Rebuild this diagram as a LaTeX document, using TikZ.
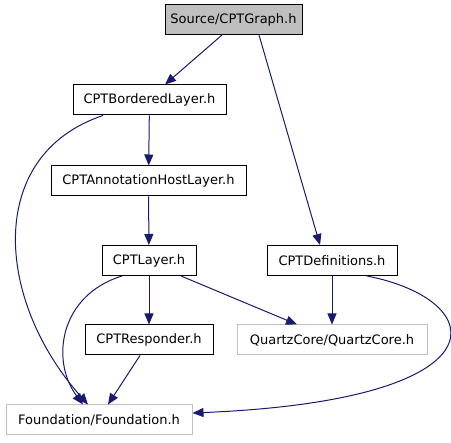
\documentclass[tikz,border=0pt]{standalone}
\usepackage{fontspec}
\setmainfont{DejaVu Sans}
\usetikzlibrary{arrows.meta}
\definecolor{GrEdge}{HTML}{191970}
\definecolor{GrGray}{HTML}{BFBFBF}
\tikzset{
  hdr/.style={draw=black,line width=1pt,minimum height=30pt,inner sep=0pt,font=\fontsize{13}{15}\selectfont},
  syshdr/.style={hdr,draw=GrGray},
  dep/.style={GrEdge,line width=1pt,-{Triangle[length=11pt,width=9pt]}}
}
\begin{document}
\begin{tikzpicture}[x=1pt,y=-1pt]
\path[use as bounding box] (0,0) rectangle (451,443);
% headers
\node[hdr,fill=GrGray,minimum width=137pt] (graph) at (233.5,19.5) {Source/CPTGraph.h};
\node[hdr,minimum width=153pt] (bordered) at (149.5,100) {CPTBorderedLayer.h};
\node[hdr,minimum width=195pt] (annot) at (148.5,181) {CPTAnnotationHostLayer.h};
\node[hdr,minimum width=94pt] (layer) at (149,260.5) {CPTLayer.h};
\node[hdr,minimum width=130pt] (defs) at (332,260.5) {CPTDefinitions.h};
\node[hdr,minimum width=128pt] (resp) at (149,340) {CPTResponder.h};
\node[syshdr,minimum width=190pt] (quartz) at (332,340) {QuartzCore/QuartzCore.h};
\node[syshdr,minimum width=186pt] (found) at (99,420) {Foundation/Foundation.h};
% includes
\draw[dep] (graph.south -| 222,0) -- (bordered.north -| 165,0);
\draw[dep] (graph.south -| 259,0) -- (defs.north -| 320,0);
\draw[dep] (bordered) -- (annot);
\draw[dep] (annot) -- (layer);
\draw[dep] (layer) -- (resp);
\draw[dep] (defs) -- (quartz);
\draw[dep] (layer.south -| 181,0) -- (quartz.north -| 297,0);
\draw[dep] (resp.south -| 140,0) -- (found.north -| 108,0);
\draw[dep] (bordered.south -| 103,0) .. controls (-15,155) and (-5,300) .. (found.north -| 88,0);
\draw[dep] (layer.south -| 122,0) .. controls (60,295) and (50,360) .. (found.north -| 83,0);
\draw[dep] (defs.south -| 367,0) .. controls (490,300) and (510,400) .. (found.east |- 0,413);
\end{tikzpicture}
\end{document}
